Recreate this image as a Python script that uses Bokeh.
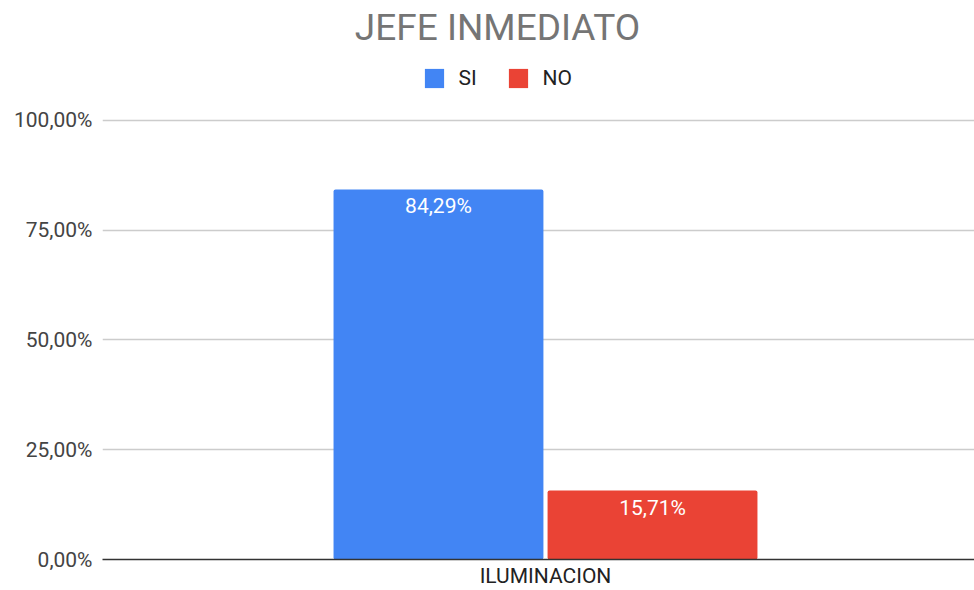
from bokeh.plotting import figure
from bokeh.models import (Range1d, FixedTicker, ColumnDataSource, Legend, LegendItem, Label)
from bokeh.core.properties import value
from bokeh.embed import file_html
from bokeh.resources import INLINE

# ---- data ----
title_text = "JEFE INMEDIATO"
categories = ["ILUMINACION"]
series = ["SI", "NO"]
si_values = [84.29]
no_values = [15.71]
y_ticks = [0, 25, 50, 75, 100]
colors = ["#4285F4", "#EA4335"]

def fmt(v):
    return f"{v:.2f}".replace(".", ",") + "%"

FONT = "Roboto"
W, H = 974, 590

p = figure(width=W, height=H, output_backend="svg", toolbar_location=None,
           x_range=Range1d(-1.0448, 1.0118), y_range=Range1d(0, 127.33),
           min_border_left=102, min_border_right=0, min_border_top=0, min_border_bottom=31)
p.outline_line_color = None
p.background_fill_color = "white"
p.border_fill_color = "white"

cat_pos = list(range(len(categories)))
bar_w = 0.495
offsets = [-0.2524, 0.2524]
renderers = []
for s, vals, col, off in zip(series, [si_values, no_values], colors, offsets):
    src = ColumnDataSource(dict(x=[c + off for c in cat_pos], top=vals,
                                lab=[fmt(v) for v in vals]))
    r = p.vbar(x="x", top="top", width=bar_w, bottom=0, source=src,
               fill_color=col, line_color=None, border_radius=2)
    renderers.append(r)
    p.text(x="x", y="top", text="lab", source=src, text_color="white",
           text_font=value(FONT), text_font_size="21px", text_align="center",
           text_baseline="middle", y_offset=17)

# axes
p.yaxis.ticker = FixedTicker(ticks=y_ticks)
p.yaxis.major_label_overrides = {t: fmt(t) for t in y_ticks}
p.yaxis.axis_line_color = None
p.yaxis.major_tick_line_color = None
p.yaxis.minor_tick_line_color = None
p.yaxis.major_tick_out = 0
p.yaxis.major_tick_in = 0
p.yaxis.major_label_text_font = FONT
p.yaxis.major_label_text_font_size = "21px"
p.yaxis.major_label_text_color = "#444444"
p.yaxis.major_label_standoff = 10

p.xaxis.ticker = FixedTicker(ticks=cat_pos)
p.xaxis.major_label_overrides = {c: n for c, n in zip(cat_pos, categories)}
p.xaxis.axis_line_color = "#333333"
p.xaxis.axis_line_width = 1.3
p.xaxis.major_tick_line_color = None
p.xaxis.minor_tick_line_color = None
p.xaxis.major_tick_out = 0
p.xaxis.major_tick_in = 0
p.xaxis.major_label_text_font = FONT
p.xaxis.major_label_text_font_size = "21px"
p.xaxis.major_label_text_color = "#222222"
p.xaxis.major_label_standoff = 4

p.xgrid.grid_line_color = None
p.ygrid.ticker = FixedTicker(ticks=y_ticks[1:])
p.ygrid.grid_line_color = "#cccccc"
p.ygrid.grid_line_width = 1.3

# title
p.add_layout(Label(x=395, y=532, x_units="screen", y_units="screen", text=title_text,
                   text_font=FONT, text_font_size="37px", text_color="#757575",
                   text_align="center", text_baseline="middle"))

legend = Legend(items=[LegendItem(label=s, renderers=[r]) for s, r in zip(series, renderers)],
                location=(319.6, 469), orientation="horizontal",
                glyph_width=24, glyph_height=24, label_height=24,
                label_standoff=13, spacing=27, padding=0, margin=0,
                border_line_color=None, background_fill_alpha=0,
                label_text_font=FONT, label_text_font_size="21px", label_text_color="#222222")
p.add_layout(legend)

open("out.html", "w").write(file_html(p, INLINE))
